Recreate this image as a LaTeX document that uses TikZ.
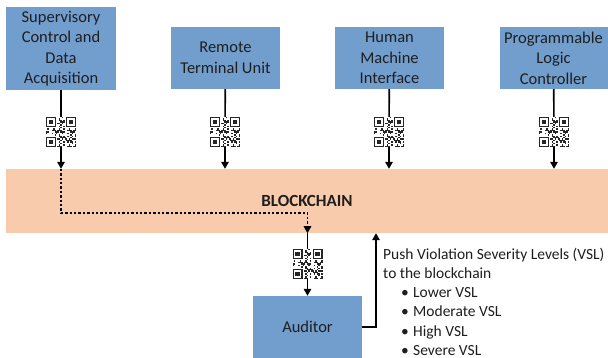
\documentclass[tikz,border=0pt]{standalone}
\usepackage{fontspec}
\setmainfont{Carlito}
\usetikzlibrary{arrows.meta,calc}

\definecolor{boxblue}{RGB}{114,158,206}
\definecolor{chainpeach}{RGB}{248,203,173}
\definecolor{inktext}{RGB}{30,30,30}

\tikzset{
  unitbox/.style={rectangle, fill=boxblue, inner sep=2pt, align=center,
    text=inktext, font=\fontsize{16.5}{20.5}\selectfont},
  qrbox/.style={rectangle, minimum size=30pt, inner sep=0pt},
  link/.style={draw=black, line width=1.6pt},
  arr/.style={link, -{Triangle[length=7pt,width=7.5pt]}},
  dotarr/.style={draw=black, line width=1.6pt, dash pattern=on 2.4pt off 2pt,
    -{Triangle[length=7pt,width=7.5pt]}},
  qrcode/.pic={
    \fill[white] (-15,-15) rectangle (15,15);
    \foreach \i in {0,...,20}{
      \foreach \j in {0,...,20}{
        \pgfmathtruncatemacro\finder{(\i<8 && \j<8) || (\i>12 && \j<8) || (\i<8 && \j>12)}
        \ifnum\finder=0
          \pgfmathtruncatemacro\bit{mod(\i*\i*7+\j*\j*3+\i*\j*5+\i*11+\j*13,11)<5}
          \ifnum\bit=1
            \fill[black!85] (-15+\i*1.4286,-15+\j*1.4286) rectangle ++(1.45,1.45);
          \fi
        \fi
      }
    }
    \foreach \a/\b in {0/0,14/0,0/14}{
      \fill[black!85] (-15+\a*1.4286,-15+\b*1.4286) rectangle ++(10,10);
      \fill[white] (-15+\a*1.4286+1.4286,-15+\b*1.4286+1.4286) rectangle ++(7.143,7.143);
      \fill[black!85] (-15+\a*1.4286+2.857,-15+\b*1.4286+2.857) rectangle ++(4.286,4.286);
    }
  }
}

\begin{document}
\begin{tikzpicture}[x=1pt,y=-1pt]
  \useasboundingbox (0,0) rectangle (608,358);

  % the shared ledger band
  \node[rectangle, fill=chainpeach, minimum width=602pt, minimum height=64pt,
        inner sep=0pt] (chain) at (307,201) {};
  \node[font=\fontsize{17}{20}\selectfont\bfseries, text=inktext] (chainlabel)
        at (307,201) {BLOCKCHAIN};

  % field devices and control systems
  \node[unitbox, minimum width=110pt, minimum height=83pt] (scada) at (61,48.5)
        {Supervisory\\Control and\\Data\\Acquisition};
  \node[unitbox, minimum width=109pt, minimum height=62pt] (rtu) at (225.5,58)
        {Remote\\Terminal Unit};
  \node[unitbox, minimum width=109pt, minimum height=62pt] (hmi) at (389.5,58)
        {Human\\Machine\\Interface};
  \node[unitbox, minimum width=108pt, minimum height=62pt] (plc) at (553.5,58)
        {Programmable\\Logic\\Controller};

  % auditor
  \node[unitbox, minimum width=109pt, minimum height=62pt] (auditor) at (307.5,327)
        {Auditor};

  % QR tags on each link
  \node[qrbox] (q1) at (61,132) {};
  \node[qrbox] (q2) at (225,132) {};
  \node[qrbox] (q3) at (389,132) {};
  \node[qrbox] (q4) at (554,132) {};
  \node[qrbox] (q5) at (307.5,264) {};
  \foreach \q in {q1,q2,q3,q4,q5}{ \pic at (\q) {qrcode}; }

  % device -> blockchain
  \draw[link] (scada) -- (q1);
  \draw[arr]  (q1) -- (q1 |- chain.north);
  \draw[link] (rtu) -- (q2);
  \draw[arr]  (q2) -- (q2 |- chain.north);
  \draw[link] (hmi) -- (q3);
  \draw[arr]  (q3) -- (q3 |- chain.north);
  \draw[link] (plc) -- (q4);
  \draw[arr]  (q4) -- (q4 |- chain.north);

  % record routed through the ledger to the auditor
  \coordinate (bendA) at (61,213);
  \coordinate (bendB) at (307.5,213);
  \draw[dotarr] (q1 |- chain.north) -- (bendA) -- (bendB) -- (q5 |- chain.south);
  \draw[link] (q5 |- chain.south) -- (q5);
  \draw[arr]  (q5) -- (auditor);

  % auditor pushes severity levels back
  \coordinate (pushx) at (376,327);
  \draw[arr] (auditor.east) -- (pushx) -- (pushx |- chain.south);

  \node[anchor=north west, inner sep=0pt, align=left, text=inktext,
        font=\fontsize{15.5}{19.3}\selectfont] (vsl) at (383,247.5)
    {Push Violation Severity Levels (VSL)\\
     to the blockchain\\
     \hspace*{18pt}\makebox[12pt][l]{\textbullet}Lower VSL\\
     \hspace*{18pt}\makebox[12pt][l]{\textbullet}Moderate VSL\\
     \hspace*{18pt}\makebox[12pt][l]{\textbullet}High VSL\\
     \hspace*{18pt}\makebox[12pt][l]{\textbullet}Severe VSL};
\end{tikzpicture}
\end{document}
